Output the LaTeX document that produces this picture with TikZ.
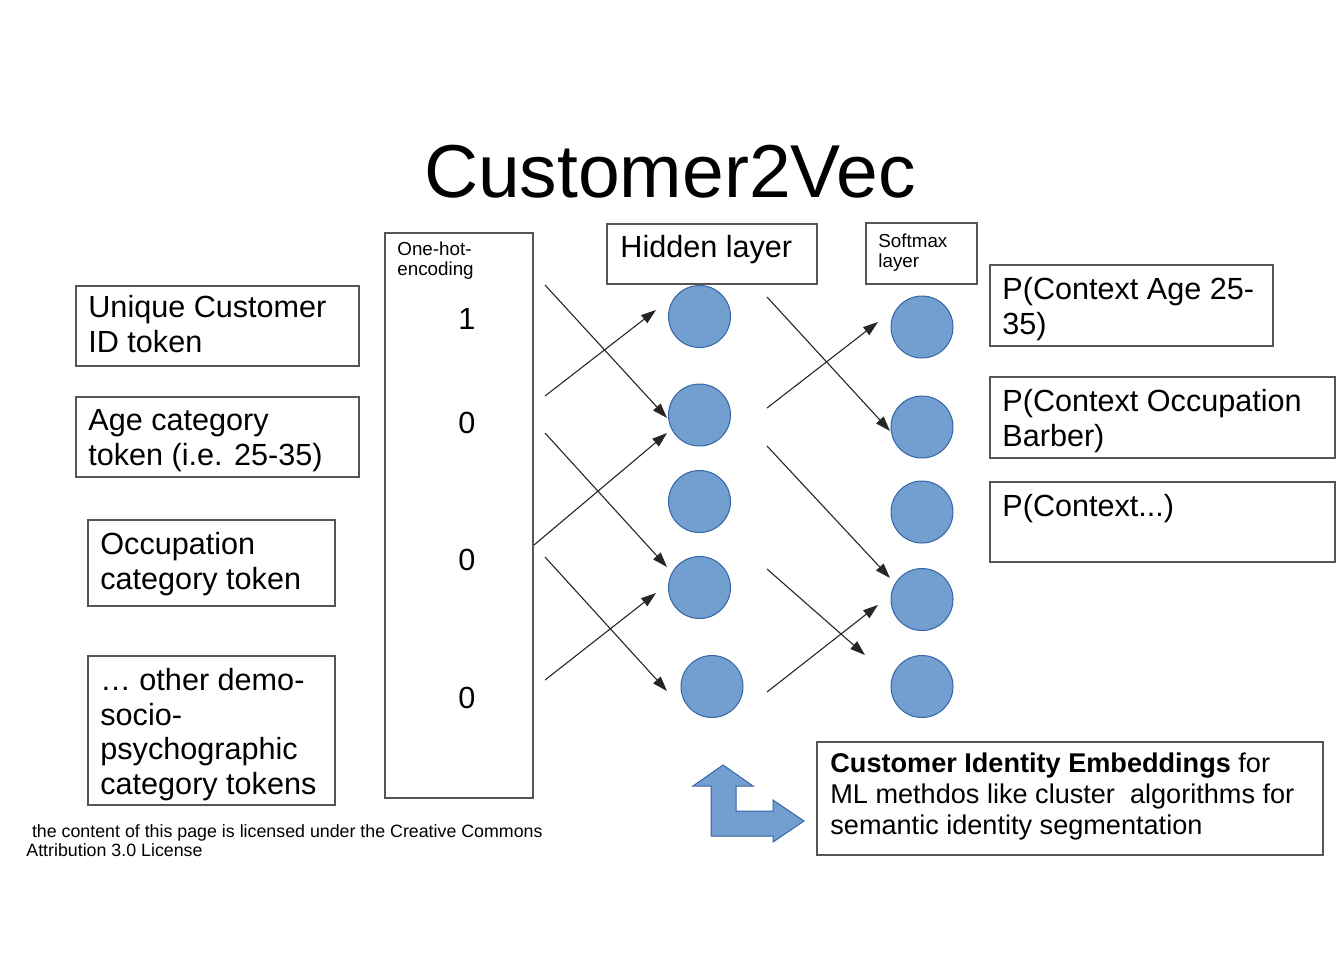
\documentclass[tikz,border=0pt]{standalone}
\usepackage{fontspec}
\setmainfont{Liberation Sans}
\usetikzlibrary{arrows.meta,fit}
\definecolor{nodeblue}{HTML}{729FCF}
\definecolor{nodeedge}{HTML}{3465A4}
\definecolor{boxline}{HTML}{555555}
\begin{document}
\begin{tikzpicture}[x=0.5pt,y=-0.5pt,
  box/.style={draw=boxline,line width=0.75pt,inner sep=0pt},
  txt/.style={anchor=north west,inner sep=0pt,align=left,font=\fontsize{15.3}{17.3}\selectfont},
  small/.style={anchor=north west,inner sep=0pt,align=left,font=\fontsize{9.4}{10.3}\selectfont},
  digit/.style={inner sep=0pt,font=\fontsize{15.3}{17.3}\selectfont},
  neuron/.style={circle,fill=nodeblue,draw=nodeedge,line width=0.5pt,minimum size=31pt,inner sep=0pt},
  conn/.style={draw=black!85,line width=0.55pt,-{Triangle[length=7.5pt,width=5pt]}},
  bent/.style={fill=nodeblue,draw=nodeedge,line width=0.5pt,line join=miter}]
\useasboundingbox (0,0) rectangle (1344,960);

% title
\node[inner sep=0pt,font=\fontsize{37.5}{42}\selectfont] (title) at (670,172) {Customer2Vec};

% input token boxes
\node[box,fit={(76,286)(359,366)}] (bUid) {};
\node[txt] (tUid) at (88,295) {Unique Customer\\ID token};
\node[box,fit={(76,397)(359,477)}] (bAge) {};
\node[txt] (tAge) at (88,409) {Age category\\token (i.e. 25-35)};
\node[box,fit={(88,520)(335,606)}] (bOcc) {};
\node[txt] (tOcc) at (100,532) {Occupation\\category token};
\node[box,fit={(88,656)(335,805)}] (bOther) {};
\node[txt] (tOther) at (100,668) {… other demo-\\socio-\\psychographic\\category tokens};

% license
\node[anchor=north west,inner sep=0pt,align=left,font=\fontsize{8.9}{9.7}\selectfont] (lic) at (26,824)
  {\hspace*{2.8pt}the content of this page is licensed under the Creative Commons\\Attribution 3.0 License};

% one-hot encoding
\node[box,fit={(385,233)(533,798)}] (bOne) {};
\node[small] (tOne) at (397,241) {One-hot-\\encoding};
\node[digit] (d1) at (467,319) {1};
\node[digit] (d2) at (467,423) {0};
\node[digit] (d3) at (467,560) {0};
\node[digit] (d4) at (467,698) {0};

% hidden layer
\node[box,fit={(607,224)(817,284)}] (bHid) {};
\node[txt] (tHid) at (620,235) {Hidden layer};
\node[neuron] (h1) at (699.5,316.5) {};
\node[neuron] (h2) at (699.5,415) {};
\node[neuron] (h3) at (699.5,501.5) {};
\node[neuron] (h4) at (699.5,587.5) {};
\node[neuron] (h5) at (712,686.5) {};

% softmax layer
\node[box,fit={(866,223)(977,284)}] (bSoft) {};
\node[small,font=\fontsize{9.4}{10.3}\selectfont] (tSoft) at (878,233) {Softmax\\layer};
\node[neuron] (s1) at (922,327) {};
\node[neuron] (s2) at (922,427) {};
\node[neuron] (s3) at (922,512) {};
\node[neuron] (s4) at (922,599.5) {};
\node[neuron] (s5) at (922,686.5) {};

% context output boxes
\node[box,fit={(990,265)(1273,346)}] (bPAge) {};
\node[txt] (tPAge) at (1002,277) {P(Context Age 25-\\35)};
\node[box,fit={(990,377)(1335,458)}] (bPOcc) {};
\node[txt] (tPOcc) at (1002,389) {P(Context Occupation\\Barber)};
\node[box,fit={(990,482)(1335,562)}] (bPEtc) {};
\node[txt] (tPEtc) at (1002,494) {P(Context...)};

% embedding box
\node[box,fit={(817,742)(1323,855)}] (bEmb) {};
\node[anchor=north west,inner sep=0pt,align=left,font=\fontsize{13.55}{15.5}\selectfont] (tEmb) at (830,752)
  {\textbf{Customer Identity Embeddings} for\\ML methdos like cluster\ \ algorithms for\\semantic identity segmentation};

% connector end points
\coordinate (a1) at (545,285); \coordinate (e1) at (667,418);
\coordinate (a2) at (545,396); \coordinate (e2) at (656,310);
\coordinate (a3) at (545,433); \coordinate (e3) at (667,567);
\coordinate (a4) at (534,545); \coordinate (e4) at (667,433);
\coordinate (a5) at (545,557); \coordinate (e5) at (667,691);
\coordinate (a6) at (545,680); \coordinate (e6) at (656,593);
\coordinate (b1) at (767,297); \coordinate (f1) at (890,431);
\coordinate (b2) at (767,408); \coordinate (f2) at (878,322);
\coordinate (b3) at (767,446); \coordinate (f3) at (890,578);
\coordinate (b4) at (767,569); \coordinate (f4) at (865,655);
\coordinate (b5) at (767,692); \coordinate (f5) at (878,605);

\foreach \i in {1,...,6} {\draw[conn] (a\i) -- (e\i);}
\foreach \i in {1,...,5} {\draw[conn] (b\i) -- (f\i);}

% bent arrow
\draw[bent] (723,765) -- (753,786) -- (736,786) -- (736,811) -- (773,811) -- (773,800)
  -- (804,821) -- (773,842) -- (773,836) -- (711,836) -- (711,786) -- (693,786) -- cycle;
\end{tikzpicture}
\end{document}
